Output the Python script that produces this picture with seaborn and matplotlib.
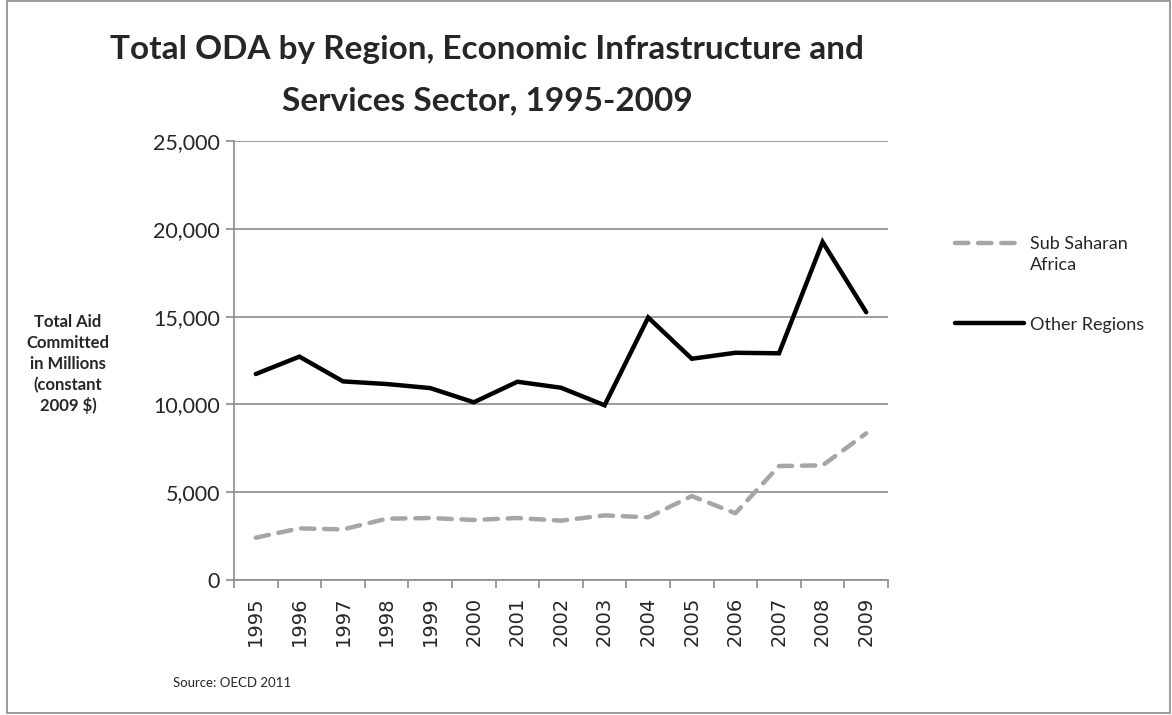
import numpy as np
import pandas as pd
import matplotlib
matplotlib.use("Agg")
import matplotlib.pyplot as plt
from matplotlib.patches import Rectangle
from matplotlib.ticker import FuncFormatter, FixedLocator
import seaborn as sns

years = [1995, 1996, 1997, 1998, 1999, 2000, 2001, 2002, 2003, 2004,
         2005, 2006, 2007, 2008, 2009]
sub_saharan = [2410, 2940, 2880, 3490, 3530, 3420, 3530, 3380, 3680, 3570,
               4780, 3800, 6490, 6530, 8350]
other_regions = [11730, 12720, 11310, 11160, 10930, 10120, 11290, 10950, 9950,
                 14950, 12600, 12940, 12910, 19250, 15250]
series_names = ["Sub Saharan\nAfrica", "Other Regions"]
y_ticks = [0, 5000, 10000, 15000, 20000, 25000]
title_lines = ["Total ODA by Region, Economic Infrastructure and",
               "Services Sector, 1995-2009"]
ylabel_lines = ["Total Aid", "Committed", "in Millions", "(constant", "2009 $)"]

sns.set_theme(style="white")
plt.rcParams["font.family"] = ["Lato", "DejaVu Sans"]

pos = np.arange(len(years))
df = pd.DataFrame({
    "pos": np.concatenate([pos, pos]),
    "value": sub_saharan + other_regions,
    "series": [series_names[0]] * len(years) + [series_names[1]] * len(years),
})

W, H = 1172, 715
fig = plt.figure(figsize=(W / 100, H / 100), dpi=100)
fig.patch.set_facecolor("white")
ax = fig.add_axes([234 / W, 1 - 580 / H, (888 - 234) / W, (580 - 141) / H])

gray = "#A6A6A6"
sns.lineplot(data=df[df.series == series_names[0]], x="pos", y="value", ax=ax,
             color=gray, linewidth=3.2, label=series_names[0])
sns.lineplot(data=df[df.series == series_names[1]], x="pos", y="value", ax=ax,
             color="black", linewidth=3.2, label=series_names[1])
ln_gray, ln_black = ax.get_lines()[:2]
ln_gray.set_dashes([3.0, 2.2])
ln_gray.set_dash_capstyle("round")
ln_black.set_solid_capstyle("round")
ln_black.set_solid_joinstyle("miter")

ax.set_xlim(-0.5, len(years) - 0.5)
ax.set_ylim(0, 25000)
ax.set_yticks(y_ticks)
ax.yaxis.set_major_formatter(FuncFormatter(lambda v, p: f"{int(v):,}"))
ax.grid(axis="y", color="#8C8C8C", linewidth=1.2)
ax.set_axisbelow(True)

ax.set_xticks(pos)
ax.set_xticklabels([str(y) for y in years], rotation=90, fontsize=14,
                   family=["DejaVu Sans"])
ax.xaxis.set_minor_locator(FixedLocator(np.arange(-0.5, len(years), 1.0)))
ax.tick_params(axis="x", which="major", length=0, pad=12)
ax.tick_params(axis="x", which="minor", length=6, width=1.2, color="#8C8C8C",
               direction="out", bottom=True)
ax.tick_params(axis="y", which="major", length=6, width=1.2, color="#8C8C8C",
               direction="out", left=True, labelsize=15.5, pad=4)

for side in ["top", "right"]:
    ax.spines[side].set_visible(False)
for side in ["left", "bottom"]:
    ax.spines[side].set_color("#8C8C8C")
    ax.spines[side].set_linewidth(1.2)

ax.set_xlabel("")
ax.set_ylabel("")

# axis caption, one line per row
for i, line in enumerate(ylabel_lines):
    fig.text(68 / W, 1 - (322 + 21 * i) / H, line, ha="center", va="center",
             fontsize=12, fontweight="bold")

# two-line chart title
for i, line in enumerate(title_lines):
    fig.text(487 / W, 1 - (50 + 51 * i) / H, line, ha="center", va="center",
             fontsize=24, fontweight="bold")

fig.text(173 / W, 1 - 683 / H, "Source: OECD 2011", ha="left",
         va="center", fontsize=9.5)

leg = ax.legend(loc="upper left", bbox_to_anchor=(955 / W, 1 - 236 / H),
                bbox_transform=fig.transFigure, frameon=False, fontsize=13,
                handlelength=3.8, handletextpad=0.35, labelspacing=2.4,
                borderaxespad=0, borderpad=0)
for t in leg.get_texts():
    t.set_linespacing(1.4)
# keep the dashed key level with the first row of its two-line label
h0 = leg.legend_handles[0]
h0.set_ydata(np.asarray(h0.get_ydata()) + 8.5)

fig.add_artist(Rectangle((0.006, 0.003), 0.992, 0.995, transform=fig.transFigure,
                         fill=False, edgecolor="#8C8C8C", linewidth=1.2))

fig.savefig("out.png", dpi=100, facecolor="white")
